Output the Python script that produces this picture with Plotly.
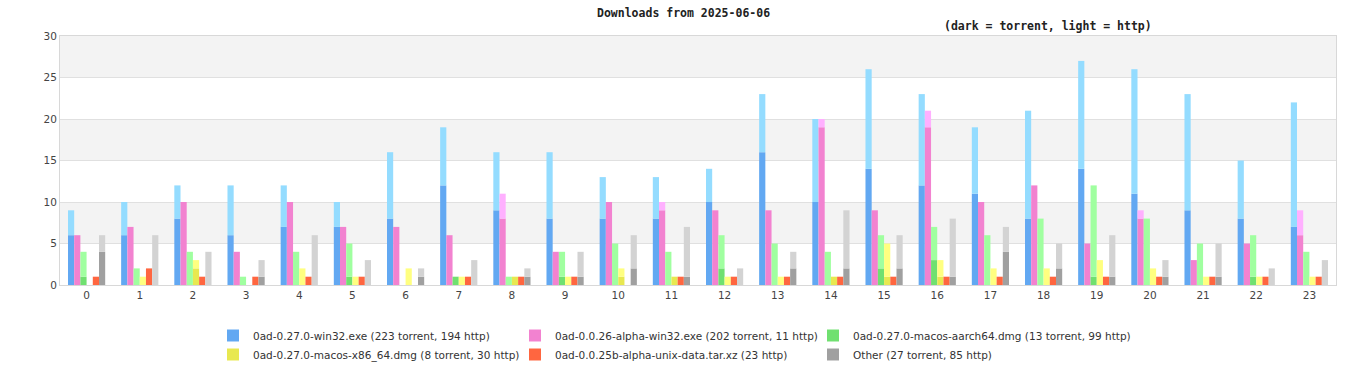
import plotly.graph_objects as go

hours = list(range(24))
hour_labels = [str(h) for h in hours]

series_names = [
    "0ad-0.27.0-win32.exe (223 torrent, 194 http)",
    "0ad-0.0.26-alpha-win32.exe (202 torrent, 11 http)",
    "0ad-0.27.0-macos-aarch64.dmg (13 torrent, 99 http)",
    "0ad-0.27.0-macos-x86_64.dmg (8 torrent, 30 http)",
    "0ad-0.0.25b-alpha-unix-data.tar.xz (23 http)",
    "Other (27 torrent, 85 http)",
]

win32_torrent = [6, 6, 8, 6, 7, 7, 8, 12, 9, 8, 8, 8, 10, 16, 10, 14, 12, 11, 8, 14, 11, 9, 8, 7]
win32_http = [3, 4, 4, 6, 5, 3, 8, 7, 7, 8, 5, 5, 4, 7, 10, 12, 11, 8, 13, 13, 15, 14, 7, 15]
a26_torrent = [6, 7, 10, 4, 10, 7, 7, 6, 8, 4, 10, 9, 9, 9, 19, 9, 19, 10, 12, 5, 8, 3, 5, 6]
a26_http = [0, 0, 0, 0, 0, 0, 0, 0, 3, 0, 0, 1, 0, 0, 1, 0, 2, 0, 0, 0, 1, 0, 0, 3]
arm_torrent = [1, 0, 0, 0, 0, 1, 0, 1, 0, 1, 0, 0, 2, 0, 0, 2, 3, 0, 0, 1, 0, 0, 1, 0]
arm_http = [3, 2, 4, 1, 4, 4, 0, 0, 1, 3, 5, 4, 4, 5, 4, 4, 4, 6, 8, 11, 8, 5, 5, 4]
x86_torrent = [0, 0, 2, 0, 0, 0, 0, 0, 1, 0, 1, 1, 0, 0, 1, 1, 1, 0, 0, 0, 0, 0, 0, 0]
x86_http = [0, 1, 1, 0, 2, 1, 2, 1, 0, 1, 1, 0, 1, 1, 0, 4, 2, 2, 2, 3, 2, 1, 1, 1]
data25_torrent = [0] * 24
data25_http = [1, 2, 1, 1, 1, 1, 0, 1, 1, 1, 0, 1, 1, 1, 1, 1, 1, 1, 1, 1, 1, 1, 1, 1]
other_torrent = [4, 0, 0, 1, 0, 0, 1, 0, 1, 1, 2, 1, 0, 2, 2, 2, 1, 4, 2, 1, 1, 1, 0, 0]
other_http = [2, 6, 4, 2, 6, 3, 1, 3, 1, 3, 4, 6, 2, 2, 7, 4, 7, 3, 3, 5, 2, 4, 2, 3]

torrent_series = [win32_torrent, a26_torrent, arm_torrent, x86_torrent, data25_torrent, other_torrent]
http_series = [win32_http, a26_http, arm_http, x86_http, data25_http, other_http]

dark_colors = ["#62a8f2", "#f282d0", "#70e070", "#e8e850", "#ff6640", "#a0a0a0"]
light_colors = ["#94dcff", "#ffb0ff", "#a0ffa0", "#ffff80", "#ff6640", "#d3d3d3"]
legend_ids = ["legend", "legend2", "legend3", "legend", "legend2", "legend3"]

fig = go.Figure()
for i in range(6):
    fig.add_trace(go.Bar(
        x=hours, y=torrent_series[i], name=series_names[i],
        offsetgroup=str(i), legendgroup=str(i), showlegend=True, legend=legend_ids[i],
        marker=dict(color=dark_colors[i], line=dict(width=0)),
    ))
    fig.add_trace(go.Bar(
        x=hours, y=http_series[i], base=torrent_series[i], name=series_names[i],
        offsetgroup=str(i), legendgroup=str(i), showlegend=False, legend=legend_ids[i],
        marker=dict(color=light_colors[i], line=dict(width=0)),
    ))

for lo in (5, 15, 25):
    fig.add_shape(type="rect", xref="paper", yref="y", x0=0, x1=1, y0=lo, y1=lo + 5,
                  fillcolor="#f3f3f3", line=dict(width=0), layer="below")

W, H = 1366, 380
PL, PR, PT, PB = 60, 1336, 36, 285


def cx(px):
    return px / W


def cy(py):
    return (H - py) / H


legend_font = dict(family="DejaVu Sans", size=10.5, color="#333")
legend_common = dict(orientation="v", yanchor="top", y=cy(321), yref="container",
                     xanchor="left", xref="container",
                     font=legend_font, traceorder="normal", itemclick=False,
                     itemdoubleclick=False, tracegroupgap=0, bgcolor="rgba(0,0,0,0)")

fig.update_layout(
    width=W, height=H, autosize=False,
    margin=dict(l=PL, r=W - PR, t=PT, b=H - PB, autoexpand=False),
    paper_bgcolor="white", plot_bgcolor="white",
    barmode="group", bargap=0.3, bargroupgap=0,
    font=dict(family="DejaVu Sans", size=10, color="#444"),
    legend=dict(legend_common, x=cx(213)),
    legend2=dict(legend_common, x=cx(515)),
    legend3=dict(legend_common, x=cx(813)),
    annotations=[
        dict(text="<b>Downloads from 2025-06-06</b>", xref="paper", yref="paper",
             x=(683 - PL) / (PR - PL), y=(PB - 13) / (PB - PT), xanchor="center", yanchor="middle",
             showarrow=False, font=dict(family="DejaVu Sans Mono", size=11.5, color="#222")),
        dict(text="<b>(dark = torrent, light = http)</b>", xref="paper", yref="paper",
             x=(1048 - PL) / (PR - PL), y=(PB - 26) / (PB - PT), xanchor="center", yanchor="middle",
             showarrow=False, font=dict(family="DejaVu Sans Mono", size=11.5, color="#222")),
    ],
)
fig.update_xaxes(range=[-0.5, 23.5], tickmode="array", tickvals=hours, ticktext=hour_labels,
                 showgrid=False, showline=True, linecolor="#d8d8d8", mirror=True, automargin=False,
                 ticks="", tickfont=dict(size=10.5, color="#444"), fixedrange=True)
fig.update_yaxes(range=[0, 30], dtick=5, showgrid=True, gridcolor="#e0e0e0", automargin=False,
                 showline=True, linecolor="#d8d8d8", mirror=True, zeroline=False,
                 ticks="", tickfont=dict(size=10.5, color="#444"), fixedrange=True)

fig.write_html("out.html",
               config={"displayModeBar": False, "responsive": False},
               post_script="document.body.style.margin='0';document.body.style.overflow='hidden';")
